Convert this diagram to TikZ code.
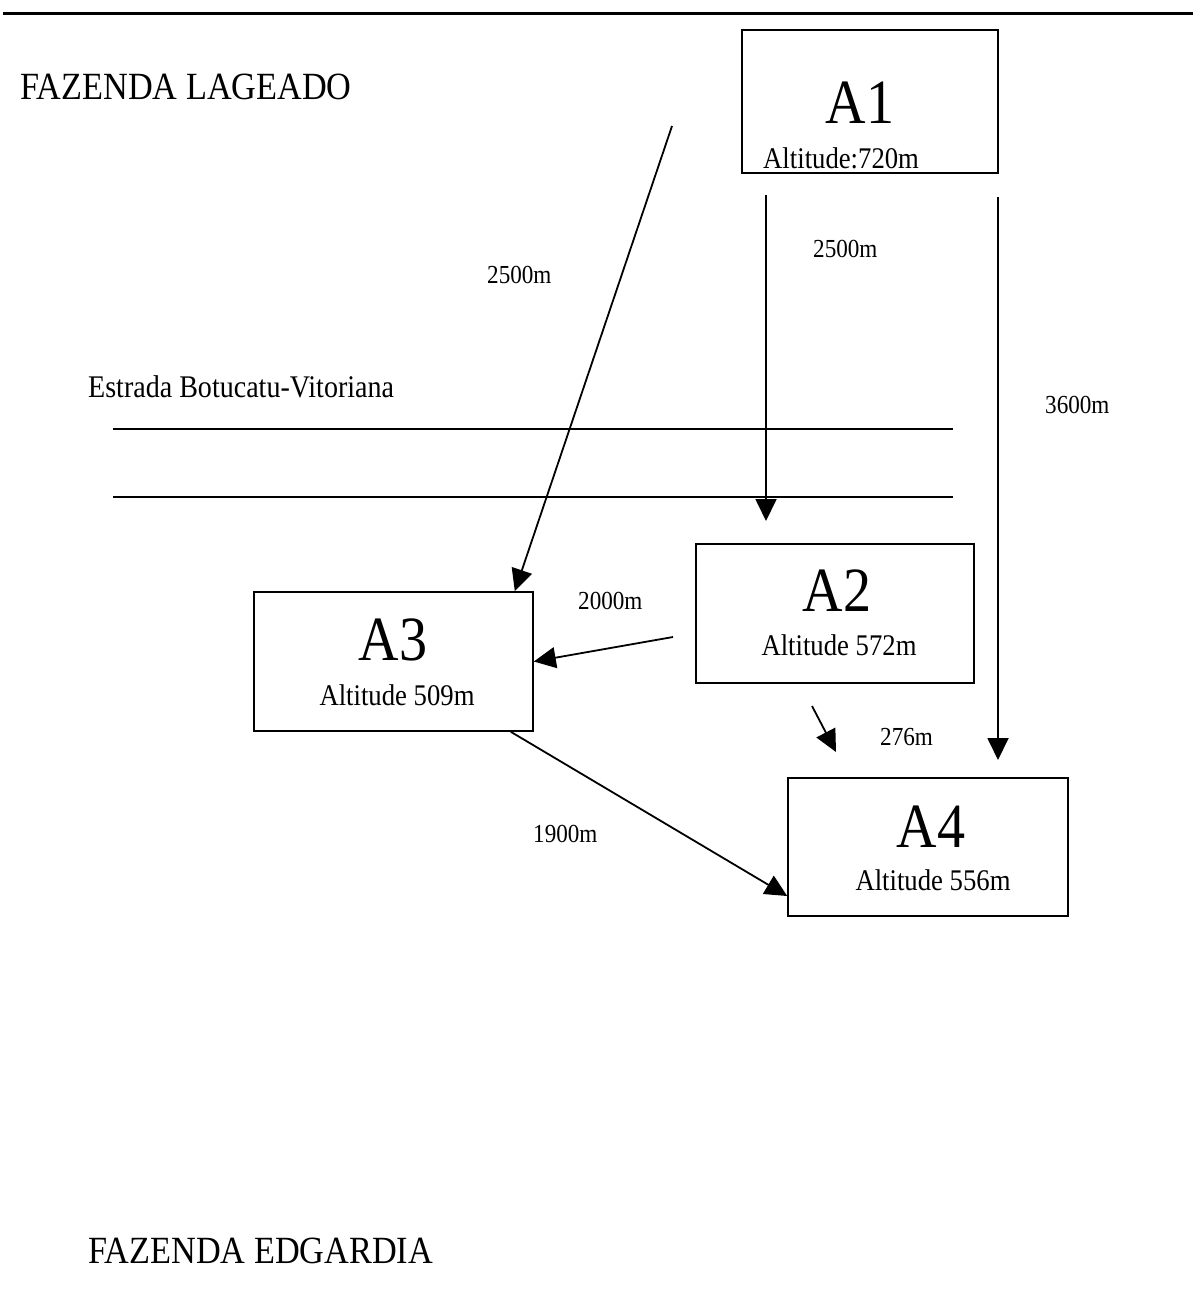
\documentclass[tikz,border=0pt]{standalone}
\usepackage{fontspec}
\setmainfont[FakeStretch=0.89]{Liberation Serif}
\usetikzlibrary{arrows.meta}
\begin{document}
\begin{tikzpicture}[x=1pt,y=-1pt,
  box/.style={draw,line width=1.6pt,rectangle,inner sep=0pt},
  txt/.style={inner sep=0pt,anchor=base west},
  ctxt/.style={inner sep=0pt,anchor=base},
  big/.style={font=\fontsize{63}{66}\selectfont},
  alt/.style={font=\fontsize{30}{33}\selectfont},
  roadlbl/.style={font=\fontsize{31.5}{34}\selectfont},
  dist/.style={font=\fontsize{26}{29}\selectfont},
  ttl/.style={font=\fontsize{38.5}{41}\selectfont},
  conn/.style={line width=1.8pt,-{Triangle[length=22pt,width=21pt]}},
  road/.style={line width=1.5pt}]
\useasboundingbox (0,0) rectangle (1193,1292);
\fill[white] (0,0) rectangle (1193,1292);

% top rule
\draw[line width=3.5pt] (3,13.5) -- (1193,13.5);

% titles
\node[txt,ttl] (t1) at (20,100) {FAZENDA LAGEADO};
\node[txt,ttl] (t2) at (88,1263) {FAZENDA EDGARDIA};

% boxes
\node[box,minimum width=256pt,minimum height=143pt] (A1) at (870,101.5) {};
\node[box,minimum width=278pt,minimum height=139pt] (A2) at (835,613.5) {};
\node[box,minimum width=279pt,minimum height=139pt] (A3) at (393.5,661.5) {};
\node[box,minimum width=280pt,minimum height=138pt] (A4) at (928,847) {};

% box texts
\node[ctxt,big] (A1l) at (860,124) {A1};
\node[txt,alt] (A1a) at (763,168) {Altitude:720m};
\node[ctxt,big] (A2l) at (837,611) {A2};
\node[ctxt,alt] (A2a) at (839,655) {Altitude 572m};
\node[ctxt,big] (A3l) at (393,660) {A3};
\node[ctxt,alt] (A3a) at (397,705) {Altitude 509m};
\node[ctxt,big] (A4l) at (931,847) {A4};
\node[ctxt,alt] (A4a) at (933,890) {Altitude 556m};

% road
\node[txt,roadlbl] (rl) at (88,397) {Estrada Botucatu-Vitoriana};
\draw[road] (113,429) -- (953,429);
\draw[road] (113,497) -- (953,497);

% distance labels
\node[txt,dist] (d1) at (487,283) {2500m};
\node[txt,dist] (d2) at (813,257) {2500m};
\node[txt,dist] (d3) at (1045,413) {3600m};
\node[txt,dist] (d4) at (578,609) {2000m};
\node[txt,dist] (d5) at (880,745) {276m};
\node[txt,dist] (d6) at (533,842) {1900m};

% connector end points
\coordinate (s1) at (672,126);
\coordinate (s2) at (766,195);
\coordinate (e2) at (766,521);
\coordinate (s3) at (998,197);
\coordinate (e3) at (998,760);
\coordinate (s4) at (673,637);
\coordinate (s5) at (812,706);
\coordinate (e5) at (836,752);

% connectors
\draw[conn] (s1) -- ([xshift=-19pt]A3.north east);
\draw[conn] (s2) -- (e2);
\draw[conn] (s3) -- (e3);
\draw[conn] (s4) -- (A3.east);
\draw[conn] (s5) -- (e5);
\draw[conn] ([xshift=-23pt]A3.south east) -- ([yshift=-49pt]A4.west);
\end{tikzpicture}
\end{document}
